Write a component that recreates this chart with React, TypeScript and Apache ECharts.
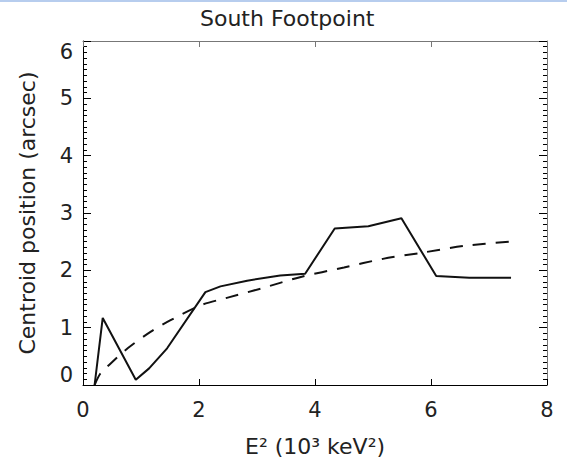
import React, { useEffect, useRef } from "react";
import * as echarts from "echarts";

const titleText = "South Footpoint";
const xAxisName = "E² (10³ keV²)";
const yAxisName = "Centroid position (arcsec)";

const measuredX = [0.2, 0.34, 0.91, 1.14, 1.45, 2.11, 2.37, 2.83, 3.4, 3.83, 4.34, 4.92, 5.49, 6.09, 6.66, 7.38];
const measuredY = [0.0, 1.17, 0.09, 0.29, 0.64, 1.62, 1.72, 1.82, 1.91, 1.94, 2.73, 2.77, 2.91, 1.9, 1.87, 1.87];

const fitX = [0.2, 0.3, 0.45, 0.77, 1.17, 1.51, 2.03, 2.48, 3.06, 3.74, 4.5, 5.17, 5.86, 6.6, 7.38];
const fitY = [0.0, 0.2, 0.35, 0.64, 0.93, 1.13, 1.39, 1.52, 1.68, 1.88, 2.05, 2.2, 2.31, 2.43, 2.5];

const FONT = "DejaVu Sans";

export default function App() {
  const ref = useRef<HTMLDivElement>(null);
  useEffect(() => {
    const chart = echarts.init(ref.current!, null, { renderer: "svg" });
    chart.setOption({
      animation: false,
      title: {
        text: titleText,
        left: 195,
        top: 2,
        textStyle: { fontFamily: FONT, fontSize: 22, fontWeight: "normal", color: "#222" },
      },
      grid: { left: 83, right: 20, top: 41, bottom: 75 },
      xAxis: [
        {
          type: "value",
          min: 0,
          max: 8,
          interval: 2,
          position: "bottom",
          name: xAxisName,
          nameLocation: "middle",
          nameGap: 50,
          nameTextStyle: { fontFamily: FONT, fontSize: 22, color: "#222" },
          axisLine: { show: true, onZero: false, lineStyle: { color: "#000", width: 1 } },
          axisTick: { show: true, inside: true, length: 6, lineStyle: { color: "#000", width: 1 } },
          axisLabel: { fontFamily: FONT, fontSize: 21, color: "#222", margin: 14 },
          splitLine: { show: false },
        },
        {
          type: "value",
          min: 0,
          max: 8,
          interval: 2,
          position: "top",
          axisLine: { show: true, onZero: false, lineStyle: { color: "#777", width: 1 } },
          axisTick: { show: true, inside: true, length: 6, lineStyle: { color: "#777", width: 1 } },
          axisLabel: { show: false },
          splitLine: { show: false },
        },
      ],
      yAxis: [
        {
          type: "value",
          min: 0,
          max: 6,
          interval: 1,
          position: "left",
          name: yAxisName,
          nameLocation: "middle",
          nameGap: 45,
          nameTextStyle: { fontFamily: FONT, fontSize: 22, color: "#222" },
          axisLine: { show: true, onZero: false, lineStyle: { color: "#000", width: 1 } },
          axisTick: { show: true, inside: true, length: 8, lineStyle: { color: "#000", width: 1 } },
          minorTick: { show: true, splitNumber: 10, length: 4, lineStyle: { color: "#000", width: 1 } },
          axisLabel: {
            fontFamily: FONT,
            fontSize: 21,
            color: "#222",
            margin: 10,
            verticalAlignMinLabel: "bottom",
            verticalAlignMaxLabel: "top",
          },
          splitLine: { show: false },
          minorSplitLine: { show: false },
        },
        {
          type: "value",
          min: 0,
          max: 6,
          interval: 1,
          position: "right",
          axisLine: { show: true, onZero: false, lineStyle: { color: "#777", width: 1 } },
          axisTick: { show: true, inside: true, length: 8, lineStyle: { color: "#000", width: 1 } },
          minorTick: { show: true, splitNumber: 10, length: 4, lineStyle: { color: "#000", width: 1 } },
          axisLabel: { show: false },
          splitLine: { show: false },
          minorSplitLine: { show: false },
        },
      ],
      series: [
        {
          type: "line",
          data: measuredX.map((x, i) => [x, measuredY[i]]),
          symbol: "none",
          lineStyle: { color: "#111", width: 2 },
        },
        {
          type: "line",
          data: fitX.map((x, i) => [x, fitY[i]]),
          symbol: "none",
          smooth: 0.3,
          lineStyle: { color: "#111", width: 2, type: [13, 10] },
        },
      ],
    });
    return () => chart.dispose();
  }, []);
  return (
    <div style={{ position: "absolute", left: 0, top: 0, width: 567, height: 462 }}>
      <div style={{ position: "absolute", left: 0, top: 0, width: 567, height: 2, background: "#b7cdee" }} />
      <div ref={ref} style={{ width: 567, height: 462 }} />
    </div>
  );
}
